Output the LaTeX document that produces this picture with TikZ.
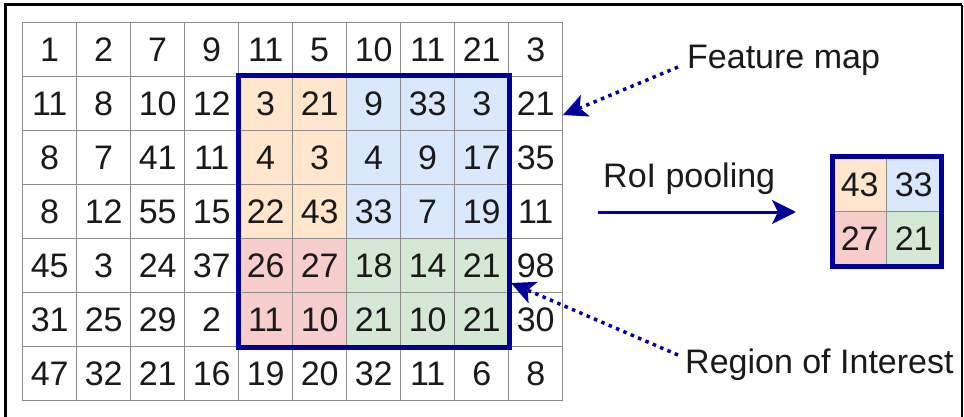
\documentclass[tikz,border=0pt]{standalone}
\usepackage{fontspec}
\setmainfont{Liberation Sans}
\usetikzlibrary{arrows.meta}
\definecolor{roiblue}{HTML}{000099}
\definecolor{gridgray}{HTML}{8C8C8C}
\definecolor{txt}{HTML}{1A1A1A}
\definecolor{fo}{HTML}{FFE6CC}
\definecolor{fb}{HTML}{DAE8FC}
\definecolor{fr}{HTML}{F8CECC}
\definecolor{fg}{HTML}{D5E8D4}
\tikzset{
  cell/.style={draw=gridgray, line width=1.4pt, minimum width=54pt, minimum height=54pt,
    inner sep=0pt, anchor=north west, text=txt, font=\fontsize{34}{34}\selectfont},
  lbl/.style={inner sep=0pt, anchor=base west, text=txt, font=\fontsize{34}{34}\selectfont},
  roiframe/.style={draw=roiblue, line width=5pt},
  dotarrow/.style={roiblue, line width=3.5pt, dash pattern=on 3.5pt off 4.5pt,
    -{Stealth[length=24pt,width=23pt,inset=6pt]}},
  solidarrow/.style={roiblue, line width=3pt, -{Stealth[length=24pt,width=24pt,inset=6pt]}}
}
\begin{document}
\begin{tikzpicture}[x=1pt,y=-1pt]
\useasboundingbox (0,0) rectangle (964,417);
\fill[white] (0,0) rectangle (964,417);
% frame
\draw[line width=3pt] (5,417) -- (5,5) -- (962,5);
\draw[line width=1.5pt] (962,5) -- (962,417);
% fills of the region of interest
\fill[fo] (238,76) rectangle (346,238);
\fill[fb] (346,76) rectangle (508,238);
\fill[fr] (238,238) rectangle (346,346);
\fill[fg] (346,238) rectangle (508,346);
% feature map grid
\foreach \row [count=\r from 0] in {
  {1,2,7,9,11,5,10,11,21,3},
  {11,8,10,12,3,21,9,33,3,21},
  {8,7,41,11,4,3,4,9,17,35},
  {8,12,55,15,22,43,33,7,19,11},
  {45,3,24,37,26,27,18,14,21,98},
  {31,25,29,2,11,10,21,10,21,30},
  {47,32,21,16,19,20,32,11,6,8}}{
  \foreach \v [count=\c from 0] in \row {
    \node[cell] (m-\r-\c) at ({22+54*\c},{22+54*\r}) {\v};
  }
}
\draw[roiframe] (m-1-4.north west) rectangle (m-5-8.south east);
% pooled output
\node[cell, fill=fo] (p-0-0) at (832,157) {43};
\node[cell, fill=fb] (p-0-1) at (886,157) {33};
\node[cell, fill=fr] (p-1-0) at (832,211) {27};
\node[cell, fill=fg] (p-1-1) at (886,211) {21};
\draw[roiframe] (p-0-0.north west) rectangle (p-1-1.south east);
% labels
\node[lbl] (fm) at (687,69) {Feature map};
\node[lbl] (rp) at (603,187) {RoI pooling};
\node[lbl] (ri) at (685,373) {Region of Interest};
% connectors
\coordinate (fmS) at (678,67);
\coordinate (fmT) at (563,115);
\coordinate (riS) at (678,355);
\coordinate (riT) at (511,283);
\coordinate (rpS) at (598,212);
\coordinate (rpT) at (796,212);
\draw[dotarrow] (fmS) -- (fmT);
\draw[dotarrow] (riS) -- (riT);
\draw[solidarrow] (rpS) -- (rpT);
\end{tikzpicture}
\end{document}
